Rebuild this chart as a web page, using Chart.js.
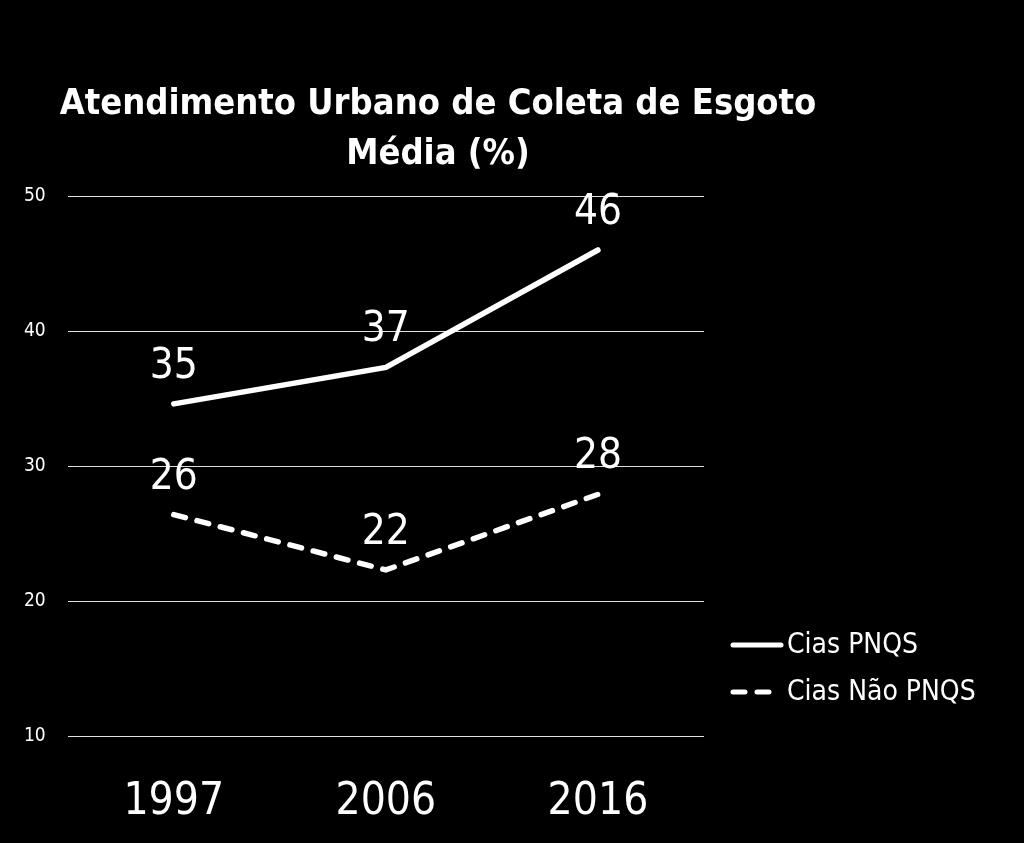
<!DOCTYPE html>
<html>
<head>
<meta charset="utf-8">
<script src="https://cdn.jsdelivr.net/npm/chart.js@4"></script>
<style>
  html, body { margin: 0; padding: 0; background: #000; }
  #wrap { width: 1024px; height: 843px; }
</style>
</head>
<body>
<div id="wrap"><canvas id="chart" width="1024" height="843"></canvas></div>
<script>
const FONT = "'DejaVu Sans Condensed', 'DejaVu Sans', sans-serif";

const titleLines = ["Atendimento Urbano de Coleta de Esgoto", "Média (%)"];
const years = ["1997", "2006", "2016"];
const pnqs = [34.6, 37.3, 46.0];
const naoPnqs = [26.4, 22.3, 27.9];
const pnqsLabels = ["35", "37", "46"];
const naoPnqsLabels = ["26", "22", "28"];
const seriesNames = ["Cias PNQS", "Cias Não PNQS"];

// title, value labels and legend drawn on the canvas
const extras = {
  id: "extras",
  afterDatasetsDraw(c) {
    const ctx = c.ctx;
    ctx.save();
    ctx.fillStyle = "#fff";
    ctx.textAlign = "center";
    ctx.textBaseline = "middle";

    ctx.font = "bold 36px " + FONT;
    ctx.fillText(titleLines[0], 438, 105);
    ctx.fillText(titleLines[1], 438, 155);

    ctx.font = "42px " + FONT;
    c.data.datasets.forEach((ds, i) => {
      const meta = c.getDatasetMeta(i);
      meta.data.forEach((pt, j) => {
        ctx.fillText(ds.valueLabels[j], pt.x, pt.y - 37);
      });
    });

    ctx.textAlign = "left";
    ctx.font = "28px " + FONT;
    ctx.strokeStyle = "#fff";
    ctx.lineWidth = 5;
    ctx.lineCap = "round";
    c.data.datasets.forEach((ds, i) => {
      const y = 645 + i * 47;
      ctx.setLineDash(ds.borderDash || []);
      ctx.beginPath();
      ctx.moveTo(733, y);
      ctx.lineTo(781, y);
      ctx.stroke();
      ctx.setLineDash([]);
      ctx.fillText(ds.label, 787, y + 1);
    });
    ctx.restore();
  }
};

new Chart(document.getElementById("chart"), {
  type: "line",
  data: {
    labels: years,
    datasets: [
      {
        label: seriesNames[0],
        data: pnqs,
        valueLabels: pnqsLabels,
        borderColor: "#fff",
        borderWidth: 5.5,
        borderCapStyle: "round",
        pointRadius: 0,
        tension: 0
      },
      {
        label: seriesNames[1],
        data: naoPnqs,
        valueLabels: naoPnqsLabels,
        borderColor: "#fff",
        borderWidth: 5.5,
        borderDash: [12, 12],
        borderCapStyle: "round",
        pointRadius: 0,
        tension: 0
      }
    ]
  },
  options: {
    responsive: false,
    animation: false,
    layout: { padding: { top: 196, right: 320, left: 2, bottom: 12 } },
    plugins: {
      legend: { display: false },
      title: { display: false },
      tooltip: { enabled: false }
    },
    scales: {
      x: {
        offset: true,
        grid: { display: false },
        border: { display: false },
        ticks: { color: "#fff", font: { family: FONT, size: 44 }, padding: 32, maxRotation: 0 },
        afterFit(scale) { scale.height = 95; }
      },
      y: {
        min: 10,
        max: 50,
        border: { display: false },
        grid: { color: "#e0e0e0", lineWidth: 1, drawTicks: false },
        ticks: { stepSize: 10, color: "#fff", font: { family: FONT, size: 19 }, padding: 22 }
      }
    }
  },
  plugins: [extras]
});
</script>
</body>
</html>
